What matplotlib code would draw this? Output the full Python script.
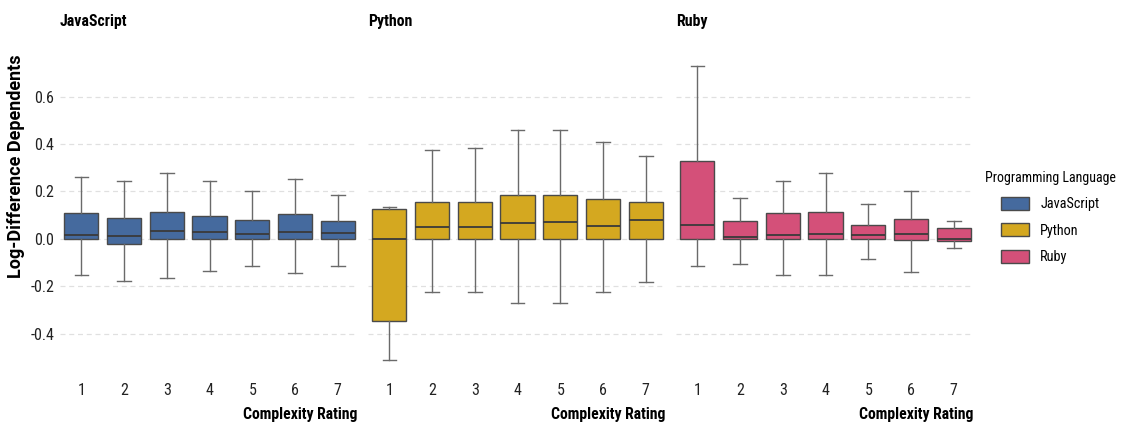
import matplotlib
matplotlib.use("Agg")
import matplotlib.pyplot as plt
from matplotlib.patches import Patch
from matplotlib import font_manager

avail = {f.name for f in font_manager.fontManager.ttflist}
cond = next((n for n in ["Roboto Condensed", "Liberation Sans Narrow", "Roboto"] if n in avail), "DejaVu Sans")
plt.rcParams['font.family'] = [cond, "DejaVu Sans"]

# data: per language, per complexity rating 1..7
ratings = [1, 2, 3, 4, 5, 6, 7]
languages = ["JavaScript", "Python", "Ruby"]
colors = ["#456A9E", "#D4A820", "#D45079"]

js_q1 = [0.0, -0.020, 0.0, 0.0, 0.0, 0.0, 0.0]
js_med = [0.018, 0.011, 0.034, 0.028, 0.022, 0.027, 0.025]
js_q3 = [0.108, 0.089, 0.113, 0.096, 0.080, 0.103, 0.077]
js_lo = [-0.153, -0.176, -0.165, -0.135, -0.115, -0.142, -0.113]
js_hi = [0.260, 0.242, 0.278, 0.242, 0.201, 0.253, 0.186]

py_q1 = [-0.347, 0.0, 0.0, 0.0, 0.0, 0.0, 0.0]
py_med = [0.0, 0.052, 0.052, 0.066, 0.070, 0.055, 0.079]
py_q3 = [0.125, 0.156, 0.156, 0.186, 0.186, 0.167, 0.156]
py_lo = [-0.512, -0.225, -0.225, -0.269, -0.269, -0.225, -0.183]
py_hi = [0.136, 0.373, 0.384, 0.459, 0.459, 0.409, 0.350]

rb_q1 = [0.0, 0.0, 0.0, 0.0, 0.0, -0.004, -0.011]
rb_med = [0.059, 0.007, 0.015, 0.020, 0.015, 0.022, 0.0]
rb_q3 = [0.328, 0.075, 0.108, 0.115, 0.059, 0.084, 0.044]
rb_lo = [-0.115, -0.104, -0.153, -0.153, -0.086, -0.139, -0.037]
rb_hi = [0.730, 0.174, 0.246, 0.277, 0.146, 0.201, 0.075]

yticks = [-0.4, -0.2, 0.0, 0.2, 0.4, 0.6]

all_stats = [
    (js_q1, js_med, js_q3, js_lo, js_hi),
    (py_q1, py_med, py_q3, py_lo, py_hi),
    (rb_q1, rb_med, rb_q3, rb_lo, rb_hi),
]

W, H = 1121, 430
fig = plt.figure(figsize=(W / 100, H / 100), dpi=100)

lefts = [60, 368, 676]
pw = 297
bottom = (H - 375) / H
height = (375 - 51) / H

axes = []
for k, lang in enumerate(languages):
    ax = fig.add_axes([lefts[k] / W, bottom, pw / W, height])
    q1, med, q3, lo, hi = all_stats[k]
    stats = []
    for i in range(len(ratings)):
        stats.append(dict(q1=q1[i], med=med[i], q3=q3[i], whislo=lo[i], whishi=hi[i], fliers=[]))
    ax.bxp(stats, positions=ratings, widths=0.8, patch_artist=True, showfliers=False,
           boxprops=dict(facecolor=colors[k], edgecolor="#4a4a4a", linewidth=1.0),
           medianprops=dict(color="#3a3a3a", linewidth=1.3),
           whiskerprops=dict(color="#6a6a6a", linewidth=1.0),
           capprops=dict(color="#6a6a6a", linewidth=1.0),
           capwidths=0.32)
    ax.set_xlim(0.5, 7.45)
    ax.set_ylim(-0.574, 0.792)
    ax.set_yticks(yticks)
    ax.yaxis.grid(True, linestyle=(0, (4, 3)), color="#e0e0e0", linewidth=0.9)
    ax.set_axisbelow(True)
    for s in ax.spines.values():
        s.set_visible(False)
    ax.tick_params(length=0, labelsize=11.5, colors="#222222", pad=4)
    ax.tick_params(axis="x", pad=6)
    ax.set_xticks(ratings)
    ax.set_xticklabels([str(r) for r in ratings])
    if k == 0:
        ax.set_yticklabels([f"{t:.1f}" for t in yticks])
    else:
        ax.set_yticklabels([])
    ax.set_title(lang, loc="left", fontsize=11.4, fontweight="bold", pad=18)
    ax.set_xlabel("Complexity Rating", fontsize=11.3, fontweight="bold", loc="right", labelpad=6)
    axes.append(ax)

fig.text(16 / W, 1 - 166 / H, "Log-Difference Dependents", rotation=90, ha="center", va="center",
         fontsize=13, fontweight="bold", family=["Roboto", "DejaVu Sans"])

fig.text(985 / W, 1 - 178 / H, "Programming Language", ha="left", va="center", fontsize=10)
handles = [Patch(facecolor=c, edgecolor="#4a4a4a", linewidth=1.0) for c in colors]
fig.legend(handles, languages, loc="upper left",
           bbox_to_anchor=(1001 / W, 1 - 197 / H), frameon=False, fontsize=10.3,
           handlelength=1.95, handleheight=1.0, labelspacing=0.85, handletextpad=0.8,
           borderpad=0, borderaxespad=0)

fig.savefig("out.png", dpi=100)
